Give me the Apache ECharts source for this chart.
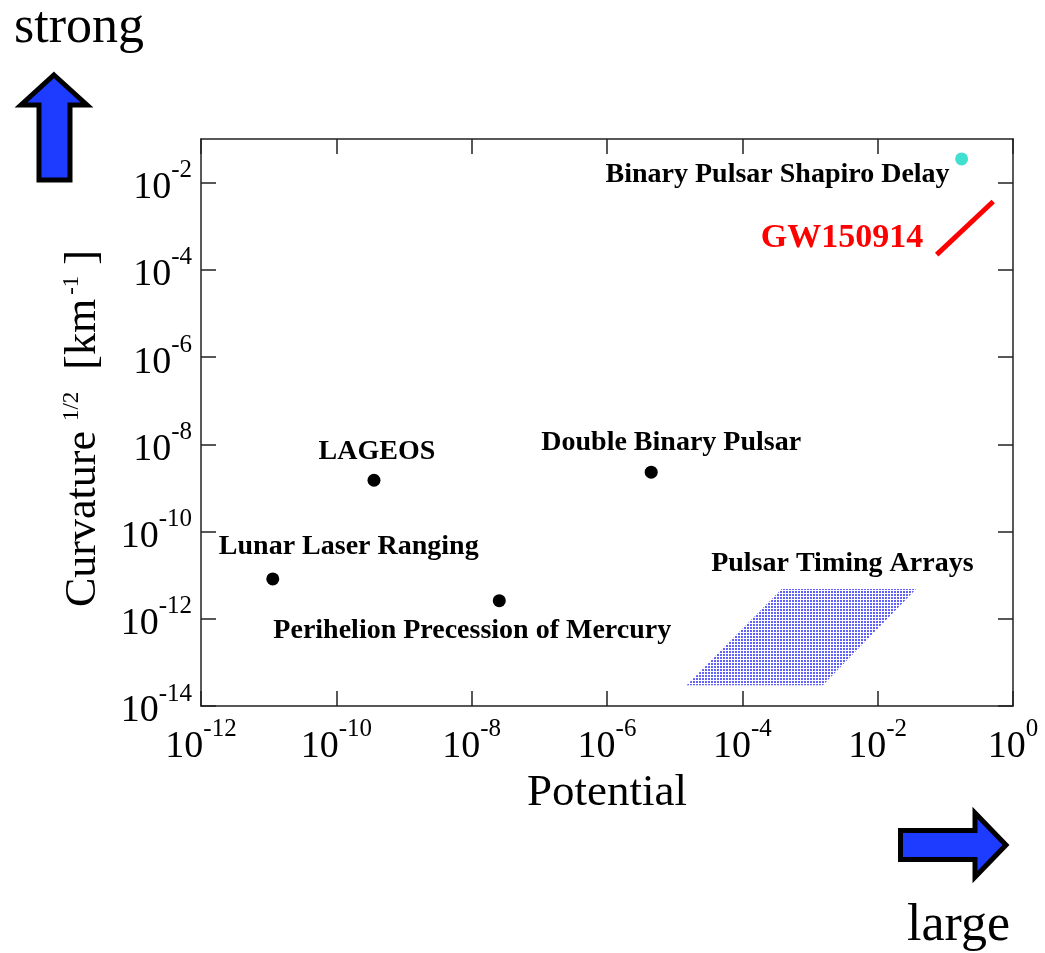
<!DOCTYPE html>
<html>
<head>
<meta charset="utf-8">
<script src="https://cdn.jsdelivr.net/npm/echarts@6/dist/echarts.min.js"></script>
<style>
  html, body { margin: 0; padding: 0; background: #ffffff; }
  #chart { width: 1045px; height: 953px; }
</style>
</head>
<body>
<div id="chart"></div>
<script>
// ---- data ---------------------------------------------------------------
const potentialTicks = [1e-12, 1e-10, 1e-8, 1e-6, 1e-4, 1e-2, 1];
const curvatureTicks = [1e-14, 1e-12, 1e-10, 1e-8, 1e-6, 1e-4, 1e-2];

const testNames = ['Lunar Laser Ranging', 'LAGEOS', 'Perihelion Precession of Mercury', 'Double Binary Pulsar'];
const testPotential = [1.15e-11, 3.6e-10, 2.56e-8, 4.5e-6];
const testCurvature = [8.2e-12, 1.5e-9, 2.6e-12, 2.3e-9];

const shapiroName = 'Binary Pulsar Shapiro Delay';
const shapiroPotential = [0.174];
const shapiroCurvature = [3.5e-2];

const gwName = 'GW150914';
const gwPotential = [0.0745, 0.51];
const gwCurvature = [2.24e-4, 3.7e-3];

const ptaName = 'Pulsar Timing Arrays';
const ptaPotential = [1.5e-5, 1.55e-3, 3.7e-2, 3.8e-4];
const ptaCurvature = [3.0e-14, 3.0e-14, 4.8e-12, 4.8e-12];

// ---- styling -------------------------------------------------------------
const SERIF = '"Liberation Serif", "DejaVu Serif", serif';
const AXIS_COLOR = '#222222';
const ARROW_BLUE = '#1e3cff';

// where each experiment's caption sits relative to its marker
const labelOffsets = {
  'Lunar Laser Ranging': [76, -32],
  'LAGEOS': [3, -28],
  'Perihelion Precession of Mercury': [-27, 30],
  'Double Binary Pulsar': [20, -29]
};

function powerLabel(v) {
  const e = Math.round(Math.log10(v));
  return '{b|10}{s|' + e + '}';
}

const tickRich = {
  b: { fontFamily: SERIF, fontSize: 38, lineHeight: 49, verticalAlign: 'bottom', color: '#000' },
  s: { fontFamily: SERIF, fontSize: 25, lineHeight: 25, verticalAlign: 'top', color: '#000' }
};

function axisCommon(ticks, showLabels) {
  return {
    type: 'log',
    logBase: 10,
    axisLine: { show: true, onZero: false, lineStyle: { color: AXIS_COLOR, width: 1.5 } },
    axisTick: { show: true, inside: true, length: 15, customValues: ticks,
                lineStyle: { color: AXIS_COLOR, width: 1.5 } },
    axisLabel: showLabels
      ? { show: true, customValues: ticks, formatter: powerLabel, rich: tickRich, color: '#000' }
      : { show: false },
    splitLine: { show: false },
    minorTick: { show: false }
  };
}

// dotted blue fill for the pulsar timing array region
function stipple() {
  const c = document.createElement('canvas');
  c.width = 3; c.height = 3;
  const g = c.getContext('2d');
  g.fillStyle = '#ffffff';
  g.fillRect(0, 0, 3, 3);
  g.fillStyle = '#6262f6';
  g.fillRect(0, 0, 2, 2);
  return c;
}

const chart = echarts.init(document.getElementById('chart'), null, { renderer: 'canvas' });

const testData = testNames.map((name, i) => ({
  name: name,
  value: [testPotential[i], testCurvature[i]],
  label: { offset: labelOffsets[name] }
}));

const nameRich = {
  b: { fontFamily: SERIF, fontSize: 44, lineHeight: 44, verticalAlign: 'bottom', color: '#000' },
  s: { fontFamily: SERIF, fontSize: 23, lineHeight: 23, verticalAlign: 'bottom',
       padding: [0, 0, 22, 10], color: '#000' },
  s2: { fontFamily: SERIF, fontSize: 23, lineHeight: 23, verticalAlign: 'bottom',
        padding: [0, 0, 22, 4], color: '#000' },
  e: { fontFamily: SERIF, fontSize: 44, lineHeight: 44, verticalAlign: 'bottom',
       padding: [0, 12, 0, 0], color: '#000' }
};

const option = {
  animation: false,
  backgroundColor: '#ffffff',
  grid: { left: 201, right: 32, top: 139, bottom: 247, containLabel: false, outerBoundsMode: 'none' },
  xAxis: [
    Object.assign(axisCommon(potentialTicks, true), {
      position: 'bottom', min: 1e-12, max: 1,
      axisLabel: { show: true, customValues: potentialTicks, formatter: powerLabel, rich: tickRich, margin: 11 },
      name: 'Potential', nameLocation: 'middle', nameGap: 50,
      nameTextStyle: { fontFamily: SERIF, fontSize: 45, color: '#000' }
    }),
    Object.assign(axisCommon(potentialTicks, false), { position: 'top', min: 1e-12, max: 1 })
  ],
  yAxis: [
    Object.assign(axisCommon(curvatureTicks, true), {
      position: 'left', min: 1e-14, max: 1e-1,
      axisLabel: { show: true, customValues: curvatureTicks, formatter: powerLabel, rich: tickRich, margin: 9 },
      name: '{b|Curvature}{s|1/2}{b|  [km}{s2|-1}{e| ]}',
      nameLocation: 'middle', nameGap: 96, nameRotate: 90,
      nameTextStyle: { rich: nameRich }
    }),
    Object.assign(axisCommon(curvatureTicks, false), { position: 'right', min: 1e-14, max: 1e-1 })
  ],
  series: [
    {
      name: ptaName,
      type: 'custom',
      xAxisIndex: 0, yAxisIndex: 0,
      data: [[ptaPotential[0], ptaCurvature[0]]],
      renderItem: function (params, api) {
        const pts = ptaPotential.map((x, i) => api.coord([x, ptaCurvature[i]]));
        const topMid = [(pts[2][0] + pts[3][0]) / 2, pts[2][1]];
        return {
          type: 'group',
          children: [
            { type: 'polygon', shape: { points: pts },
              style: { fill: { image: stipple(), repeat: 'repeat' }, stroke: null } },
            { type: 'text',
              style: { text: ptaName, x: topMid[0] - 6.5, y: topMid[1] - 25,
                       align: 'center', verticalAlign: 'middle',
                       fontFamily: SERIF, fontWeight: 'bold', fontSize: 28, fill: '#000' } }
          ]
        };
      },
      z: 2
    },
    {
      name: gwName,
      type: 'custom',
      xAxisIndex: 0, yAxisIndex: 0,
      data: [[gwPotential[0], gwCurvature[0]]],
      renderItem: function (params, api) {
        const a = api.coord([gwPotential[0], gwCurvature[0]]);
        const b = api.coord([gwPotential[1], gwCurvature[1]]);
        return {
          type: 'group',
          children: [
            { type: 'line', shape: { x1: a[0], y1: a[1], x2: b[0], y2: b[1] },
              style: { stroke: '#ff0000', lineWidth: 5, lineCap: 'butt' } },
            { type: 'text',
              style: { text: gwName, x: a[0] - 13.4, y: a[1] - 16,
                       align: 'right', verticalAlign: 'middle',
                       fontFamily: SERIF, fontWeight: 'bold', fontSize: 34, fill: '#ff0000' } }
          ]
        };
      },
      z: 3
    },
    {
      name: 'tests',
      type: 'scatter',
      xAxisIndex: 0, yAxisIndex: 0,
      symbol: 'circle',
      symbolSize: 13,
      itemStyle: { color: '#000000', opacity: 1 },
      label: {
        show: true, position: 'inside', formatter: '{b}',
        align: 'center', verticalAlign: 'middle', opacity: 1,
        fontFamily: SERIF, fontWeight: 'bold', fontSize: 28, color: '#000'
      },
      emphasis: { disabled: true },
      data: testData,
      z: 4
    },
    {
      name: shapiroName,
      type: 'scatter',
      xAxisIndex: 0, yAxisIndex: 0,
      symbol: 'circle',
      symbolSize: 13,
      itemStyle: { color: '#40e0d0', opacity: 1 },
      label: {
        show: true, position: 'inside', formatter: shapiroName,
        align: 'right', verticalAlign: 'middle', offset: [-12, 16], opacity: 1,
        fontFamily: SERIF, fontWeight: 'bold', fontSize: 28, color: '#000'
      },
      emphasis: { disabled: true },
      data: shapiroPotential.map((x, i) => [x, shapiroCurvature[i]]),
      z: 4
    }
  ],
  graphic: [
    // "strong" direction arrow
    { type: 'polygon', z: 10,
      shape: { points: [[54, 75], [87, 105], [70, 105], [70, 180], [39, 180], [39, 105], [21, 105]] },
      style: { fill: ARROW_BLUE, stroke: '#000', lineWidth: 5, lineJoin: 'miter' } },
    { type: 'text', z: 10,
      style: { text: 'strong', x: 14, y: 28.5, align: 'left', verticalAlign: 'middle',
               fontFamily: SERIF, fontSize: 52, fill: '#000' } },
    // "large" direction arrow
    { type: 'polygon', z: 10,
      shape: { points: [[900.5, 830.5], [975, 830.5], [975, 813], [1006, 845], [975, 877], [975, 859.5], [900.5, 859.5]] },
      style: { fill: ARROW_BLUE, stroke: '#000', lineWidth: 5, lineJoin: 'miter' } },
    { type: 'text', z: 10,
      style: { text: 'large', x: 907, y: 926.5, align: 'left', verticalAlign: 'middle',
               fontFamily: SERIF, fontSize: 52, fill: '#000' } }
  ]
};

chart.setOption(option);
</script>
</body>
</html>
